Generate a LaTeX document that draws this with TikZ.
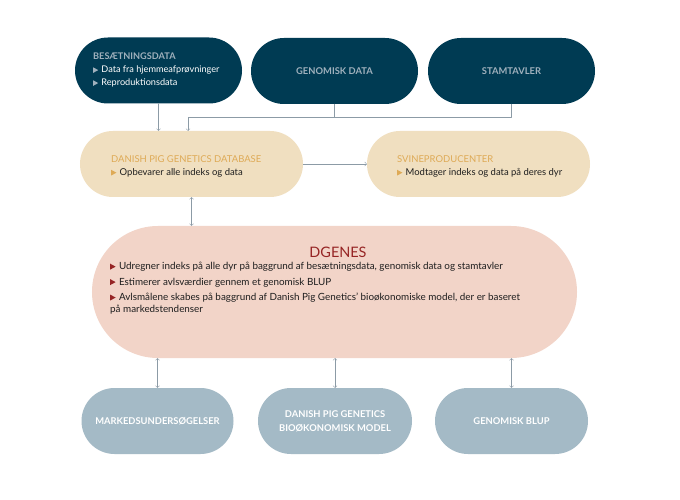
\documentclass[tikz,border=0pt]{standalone}
\usepackage{fontspec}
\setmainfont{Lato}
\usetikzlibrary{arrows}
\usetikzlibrary{positioning}
\usetikzlibrary{shapes.misc}

\definecolor{navy}{RGB}{0,59,83}
\definecolor{navytxt}{RGB}{160,177,189}
\definecolor{beige}{RGB}{240,223,192}
\definecolor{gold}{RGB}{222,170,86}
\definecolor{rose}{RGB}{242,212,200}
\definecolor{wine}{RGB}{150,36,36}
\definecolor{steel}{RGB}{164,186,198}
\definecolor{ink}{RGB}{30,30,30}
\definecolor{wire}{RGB}{140,155,166}

\newcommand{\bul}[1]{\tikz[baseline=0pt]\fill[#1] (0,0)--(0,0.6em)--(0.55em,0.3em)--cycle;\hspace{0.35em}}

\tikzset{
  pill/.style={rounded rectangle, minimum height=66bp, inner sep=0pt},
  darkpill/.style={pill, fill=navy, minimum width=167bp},
  sandpill/.style={pill, fill=beige, minimum width=223bp},
  bluepill/.style={pill, fill=steel, minimum width=153bp, text=white, align=center, font=\fontsize{9.4}{14}\selectfont\bfseries},
  wirearrow/.style={draw=wire, line width=0.6bp, ->},
  bodytext/.style={anchor=north west, align=left, inner sep=0pt}
}

\begin{document}
\begin{tikzpicture}[line cap=round,line join=round,>=to,x=1bp,y=-1bp]
\useasboundingbox[fill=white] (0,0) rectangle (680,500);
% top row
\node [darkpill] (besdata) at (158.5,70.5) {};
\node [darkpill, text=navytxt, font=\fontsize{9.4}{11}\selectfont\bfseries] (gendata) at (334.5,71) {GENOMISK DATA};
\node [darkpill, text=navytxt, font=\fontsize{9.4}{11}\selectfont\bfseries] (stamtavl) at (511.5,71) {STAMTAVLER};
\node [bodytext, font=\fontsize{9.2}{13}\selectfont, text=white] (bestxt) at (93,53)
  {{\color{navytxt}\bfseries BESÆTNINGSDATA}\\
   \bul{navytxt}Data fra hjemmeafprøvninger\\
   \bul{navytxt}Reproduktionsdata};
% database row
\node [sandpill] (database) at (191.5,164) {};
\node [sandpill] (svineprod) at (478.5,164) {};
\node [bodytext, font=\fontsize{9.5}{13.5}\selectfont, text=ink] (dbtxt) at (111,155)
  {{\color{gold}DANISH PIG GENETICS DATABASE}\\
   \bul{gold}Opbevarer alle indeks og data};
\node [bodytext, font=\fontsize{9.5}{13.5}\selectfont, text=ink] (svtxt) at (397,155)
  {{\color{gold}SVINEPRODUCENTER}\\
   \bul{gold}Modtager indeks og data på deres dyr};
% dgenes
\node [pill, fill=rose, minimum width=485bp, minimum height=132bp] (dgenes) at (334.5,292) {};
\node [font=\fontsize{14.5}{16}\selectfont, text=wine, inner sep=0pt] (dgtitle) at (338,252) {DGENES};
\node [bodytext, font=\fontsize{9.9}{12}\selectfont, text=ink] (dgtxt) at (110,262)
  {\bul{wine}Udregner indeks på alle dyr på baggrund af besætningsdata, genomisk data og stamtavler\\[3.5bp]
   \bul{wine}Estimerer avlsværdier gennem et genomisk BLUP\\[3.5bp]
   \bul{wine}Avlsmålene skabes på baggrund af Danish Pig Genetics’ bioøkonomiske model, der er baseret\\
   på markedstendenser};
% bottom row
\node [bluepill, minimum width=152bp] (marked) at (157.5,421) {MARKEDSUNDERSØGELSER};
\node [bluepill, minimum width=154bp] (biomodel) at (335,421) {DANISH PIG GENETICS\\BIOØKONOMISK MODEL};
\node [bluepill] (genblup) at (511.5,421) {GENOMISK BLUP};
% connectors
\coordinate (bus) at (188,117);
\draw [wirearrow] (besdata.south) -- (besdata.south |- database.north);
\draw [draw=wire, line width=0.6bp] (gendata.south) -- (gendata.south |- bus);
\draw [wirearrow] (stamtavl.south) |- (bus) -- (bus |- database.north);
\draw [wirearrow] (database.east) -- (svineprod.west);
\draw [wirearrow, <->] (database.south) -- (database.south |- dgenes.north);
\draw [wirearrow, <->] (marked.north |- dgenes.south) -- (marked.north);
\draw [wirearrow, <->] (biomodel.north |- dgenes.south) -- (biomodel.north);
\draw [wirearrow, <->] (genblup.north |- dgenes.south) -- (genblup.north);
\end{tikzpicture}
\end{document}
